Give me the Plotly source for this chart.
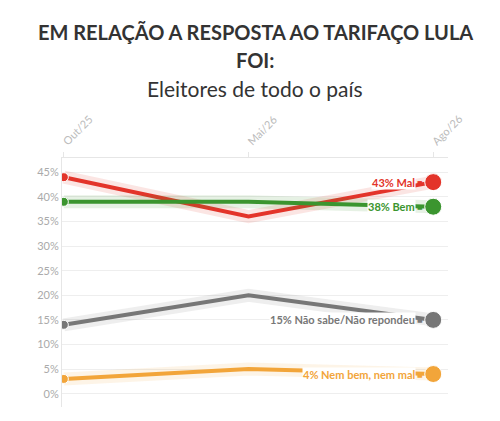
import plotly.graph_objects as go

# survey rounds
periods = ['Out/25', 'Mai/26', 'Ago/26']

# answers, in percent
mal = [44, 36, 43]
bem = [39, 39, 38]
nao_sabe = [14, 20, 15]
nem_bem = [3, 5, 4]

y_ticks = [0, 5, 10, 15, 20, 25, 30, 35, 40, 45]
y_ticklabels = ['%d%%' % v for v in y_ticks]

series_names = ['Mal', 'Bem', 'Não sabe/Não repondeu', 'Nem bem, nem mal']
series_values = [mal, bem, nao_sabe, nem_bem]
series_colors = ['#e3342a', '#3b952f', '#777777', '#f2a53a']
halo_colors = ['rgba(227,52,42,0.13)', 'rgba(59,149,47,0.13)',
               'rgba(119,119,119,0.12)', 'rgba(242,165,58,0.12)']

FONT = 'Lato'
# the page body adds an 8px margin, so the figure is a bit smaller
WIDTH, HEIGHT = 492, 413
M_TOP, M_BOT = 150, 14


def paper_y(pix):
    # pixel row from top of the figure -> paper coordinate
    return (HEIGHT - M_BOT - pix) / (HEIGHT - M_TOP - M_BOT)


fig = go.Figure()

for name, vals, color, halo in zip(series_names, series_values,
                                   series_colors, halo_colors):
    # soft band behind the line
    fig.add_trace(go.Scatter(
        x=periods, y=vals, mode='lines',
        line=dict(color=halo, width=13),
        hoverinfo='skip', showlegend=False,
    ))
    fig.add_trace(go.Scatter(
        x=periods, y=vals, mode='lines+markers', name=name,
        line=dict(color=color, width=4),
        marker=dict(color=color, size=[9, 0, 17], opacity=1),
        showlegend=False,
    ))
    fig.add_annotation(
        x=periods[-1], y=vals[-1], xref='x', yref='y',
        text='<b>%d%% %s</b>' % (vals[-1], name),
        showarrow=False, xanchor='right', yanchor='middle',
        xshift=-17, bgcolor='white', borderpad=0,
        font=dict(family=FONT, size=11, color=color),
    )
    # little square next to the label
    fig.add_annotation(
        x=periods[-1], y=vals[-1], xref='x', yref='y',
        text='■', showarrow=False, xanchor='center', yanchor='middle',
        xshift=-13,
        font=dict(family='DejaVu Sans', size=6, color=color),
    )

# titles
for text, row, size in [
        ('<b>EM RELAÇÃO A RESPOSTA AO TARIFAÇO LULA</b>', 24, 20),
        ('<b>FOI:</b>', 52, 20),
        ('Eleitores de todo o país', 80, 21)]:
    fig.add_annotation(
        x=0.5, y=paper_y(row), xref='paper', yref='paper',
        text=text, showarrow=False, yanchor='middle',
        font=dict(family=FONT, size=size, color='#333333'),
    )

fig.update_layout(
    width=WIDTH, height=HEIGHT,
    margin=dict(l=54, r=52, t=M_TOP, b=M_BOT),
    paper_bgcolor='white', plot_bgcolor='white',
    font=dict(family=FONT),
    xaxis=dict(
        side='top', type='category', range=[-0.01, 2.08],
        tickangle=-45, tickfont=dict(size=11, color='#bbbbbb'),
        showgrid=False, showline=True, linecolor='#e6e6e6',
        ticks='outside', ticklen=5, tickcolor='#e6e6e6',
        zeroline=False, fixedrange=True,
    ),
    yaxis=dict(
        range=[-2.7, 47.9], tickvals=y_ticks, ticktext=y_ticklabels,
        tickfont=dict(size=11, color='#aaaaaa'),
        showgrid=True, gridcolor='#eeeeee', gridwidth=1,
        showline=True, linecolor='#e6e6e6', zeroline=False,
        ticks='', fixedrange=True,
    ),
)

fig.write_html('out.html')
